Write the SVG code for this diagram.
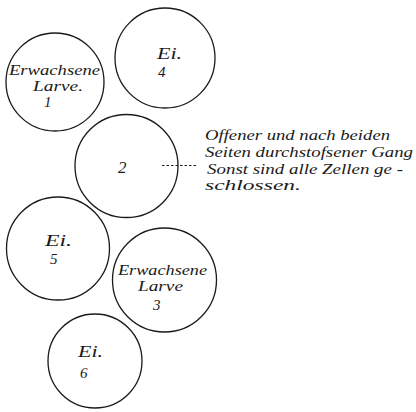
<svg xmlns="http://www.w3.org/2000/svg" width="416" height="412" viewBox="0 0 416 412">
<style>
.cell{fill:none;stroke:#1a1a1a;stroke-width:1.3}
.t{font-style:italic;fill:#1a1a1a}
.lab{font-size:15px}
.ei{font-size:16px}
.num{font-size:15px}
.note{font-size:14px}
.dots{stroke:#1a1a1a;stroke-width:1.2;stroke-dasharray:2.5 2;fill:none}
</style>
<rect width="416" height="412" fill="#fff"/>
<g font-family="'Liberation Serif', 'DejaVu Serif', serif">
<g id="cell1">
<circle class="cell" cx="55" cy="82" r="49"/>
<text class="t lab" x="9" y="75" textLength="91" lengthAdjust="spacingAndGlyphs">Erwachsene</text>
<text class="t lab" x="33" y="91" textLength="50" lengthAdjust="spacingAndGlyphs">Larve.</text>
<text class="t num" x="44" y="107">1</text>
</g>
<g id="cell4">
<circle class="cell" cx="165" cy="58" r="50"/>
<text class="t ei" x="157" y="59" textLength="25" lengthAdjust="spacingAndGlyphs">Ei.</text>
<text class="t num" x="158" y="77">4</text>
</g>
<g id="cell2">
<circle class="cell" cx="126.5" cy="166" r="51.5"/>
<text class="t num" x="118" y="173" style="font-size:17px">2</text>
</g>
<g id="cell5">
<circle class="cell" cx="58" cy="248.5" r="51.5"/>
<text class="t ei" x="45" y="246" textLength="27" lengthAdjust="spacingAndGlyphs">Ei.</text>
<text class="t num" x="50" y="264">5</text>
</g>
<g id="cell3">
<circle class="cell" cx="164.5" cy="280" r="52"/>
<text class="t lab" x="118" y="275" textLength="89" lengthAdjust="spacingAndGlyphs">Erwachsene</text>
<text class="t lab" x="138" y="291" textLength="45" lengthAdjust="spacingAndGlyphs">Larve</text>
<text class="t num" x="153" y="310">3</text>
</g>
<g id="cell6">
<circle class="cell" cx="95" cy="361" r="47"/>
<text class="t ei" x="78" y="357" textLength="25" lengthAdjust="spacingAndGlyphs">Ei.</text>
<text class="t num" x="80" y="378">6</text>
</g>
<g id="connectors">
<line class="dots" x1="162" y1="165.5" x2="197" y2="165.5"/>
</g>
<g id="note">
<text class="t note" x="205" y="140" textLength="185" lengthAdjust="spacingAndGlyphs">Offener und nach beiden</text>
<text class="t note" x="205" y="157" textLength="208" lengthAdjust="spacingAndGlyphs">Seiten durchstofsener Gang</text>
<text class="t note" x="207" y="174" textLength="196" lengthAdjust="spacingAndGlyphs">Sonst sind alle Zellen ge -</text>
<text class="t note" x="205" y="190" textLength="96" lengthAdjust="spacingAndGlyphs">schlossen.</text>
</g>
</g>
</svg>
